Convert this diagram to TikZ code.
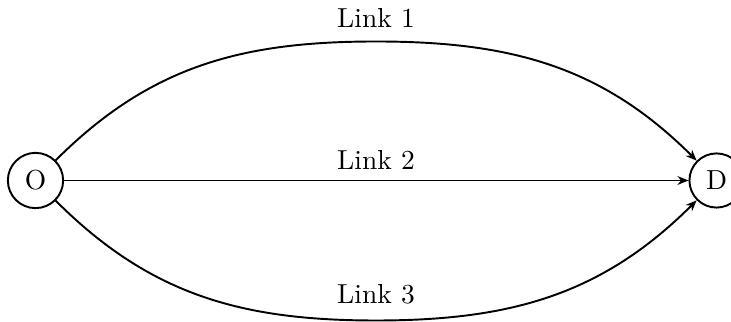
\documentclass[tikz,border=0pt]{standalone}
\usetikzlibrary{arrows.meta}
\begin{document}
\begin{tikzpicture}[x=0.3636pt,y=0.3636pt,
  city/.style={circle, draw, line width=0.7pt},
  link/.style={line width=0.7pt, -{Stealth[length=4pt,width=3.2pt]}},
  lbl/.style={fill=white, anchor=base}]
\useasboundingbox (0,0) rectangle (731,322);
\node[city] (O) at (35.5,141.5) {O};
\node[city] (D) at (716.5,141.5) {D};
\coordinate (t) at (376,280.5);
\coordinate (b) at (376,1.5);
\coordinate (m) at (376,142.3);
\draw[link] (O) to[out=45,in=180] (t) to[out=0,in=135] (D);
\draw[link] (O) -- (D);
\draw[link] (O) to[out=-45,in=180] (b) to[out=0,in=-135] (D);
\node[lbl] (l1) at (376,294) {Link 1};
\node[lbl, anchor=south] (l2) at (m) {Link 2};
\node[lbl] (l3) at (376,18) {Link 3};
\end{tikzpicture}
\end{document}
